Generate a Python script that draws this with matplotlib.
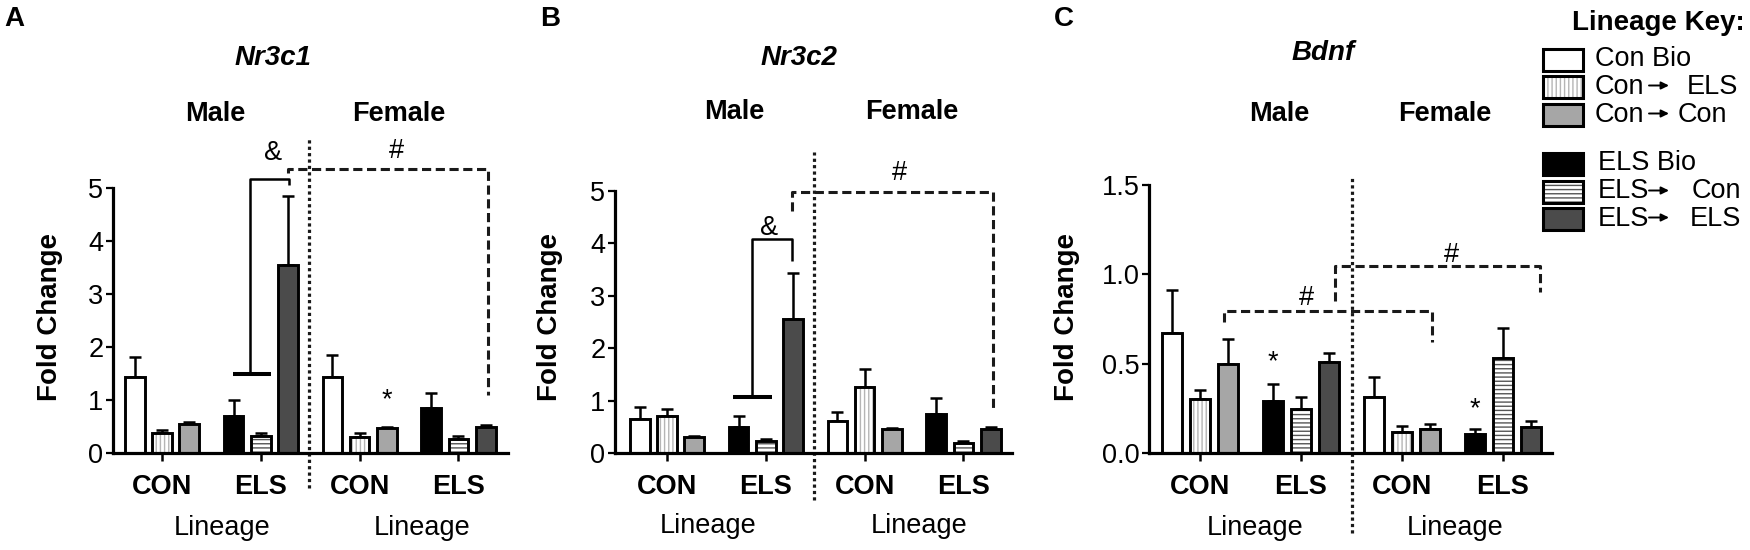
import numpy as np
import matplotlib.pyplot as plt
from matplotlib.patches import Rectangle

plt.rcParams['font.family'] = ['Liberation Sans', 'DejaVu Sans']
plt.rcParams['hatch.linewidth'] = 1.0

W, H = 1750, 550
FS = 19.5

# bar order per sex: CON lineage (Con Bio, Con->ELS, Con->Con), ELS lineage (ELS Bio, ELS->Con, ELS->ELS)
lineage_from = ['Con Bio', 'Con', 'Con', 'ELS Bio', 'ELS', 'ELS']
lineage_to = [None, 'ELS', 'Con', None, 'Con', 'ELS']
group_labels = ['CON', 'ELS', 'CON', 'ELS']
sex_labels = ['Male', 'Female']

# means and mean+SEM, order: male CON x3, male ELS x3, female CON x3, female ELS x3
nr3c1_mean = [1.44, 0.38, 0.55, 0.70, 0.32, 3.54, 1.44, 0.30, 0.48, 0.84, 0.27, 0.50]
nr3c1_top = [1.82, 0.43, 0.58, 1.00, 0.37, 4.84, 1.84, 0.37, 0.50, 1.13, 0.32, 0.52]
nr3c2_mean = [0.64, 0.71, 0.31, 0.50, 0.23, 2.55, 0.61, 1.26, 0.45, 0.75, 0.19, 0.46]
nr3c2_top = [0.87, 0.84, 0.33, 0.71, 0.26, 3.44, 0.79, 1.61, 0.47, 1.05, 0.23, 0.50]
bdnf_mean = [0.67, 0.30, 0.50, 0.29, 0.245, 0.51, 0.315, 0.115, 0.135, 0.105, 0.53, 0.145]
bdnf_top = [0.91, 0.355, 0.64, 0.385, 0.315, 0.56, 0.425, 0.15, 0.16, 0.135, 0.70, 0.178]

# face colour, hatch, hatch colour for each lineage
styles = [
    ('white', None, 'black'),
    ('white', '||||', '#b5b5b5'),
    ('#a6a6a6', None, 'black'),
    ('black', None, 'black'),
    ('white', '----', '#555555'),
    ('#4b4b4b', None, 'black'),
]

group_step = 3.62
centers = np.arange(4) * group_step
bar_x = np.concatenate([c + np.array([-1, 0, 1]) for c in centers])
bar_w = 0.72

fig = plt.figure(figsize=(W / 100, H / 100), dpi=100)


def make_axes(px_left, px_right, px_zero, px_top, top_val, g0_px, unit_px):
    ax = fig.add_axes([px_left / W, 1 - px_zero / H, (px_right - px_left) / W, (px_zero - px_top) / H])
    ax.set_ylim(0, top_val)
    ax.set_xlim((px_left - g0_px) / unit_px, (px_right - g0_px) / unit_px)
    ax.patch.set_visible(False)
    for s in ['top', 'right']:
        ax.spines[s].set_visible(False)
    for s in ['left', 'bottom']:
        ax.spines[s].set_linewidth(2.3)
    ax.tick_params(axis='y', direction='out', length=5, width=1.6, labelsize=FS, pad=2)
    ax.tick_params(axis='x', direction='out', length=6, width=1.8, labelsize=FS, pad=9)
    ax.set_xticks(centers)
    ax.set_xticklabels(group_labels, fontweight='bold')
    return ax


def draw_bars(ax, mean, top):
    mean = np.array(mean)
    top = np.array(top)
    for i in range(len(mean)):
        fc, hatch, hc = styles[i % 6]
        ax.bar(bar_x[i], mean[i], width=bar_w, color=fc, edgecolor=hc, hatch=hatch, linewidth=0, zorder=2)
        ax.bar(bar_x[i], mean[i], width=bar_w, fill=False, edgecolor='black', linewidth=2.1, zorder=3)
    ax.errorbar(bar_x, mean, yerr=[np.zeros_like(mean), top - mean], fmt='none', ecolor='black',
                elinewidth=1.8, capsize=4.5, capthick=1.8, zorder=1)


def line(ax, xs, ys, style='-', lw=1.8):
    if style == '--':
        ax.plot(xs, ys, color='#1a1a1a', lw=2.2, linestyle=(0, (3, 1.5)), clip_on=False, solid_capstyle='butt')
    elif style == ':':
        ax.plot(xs, ys, color='#1a1a1a', lw=2.3, linestyle=(0, (1, 1.0)), clip_on=False)
    else:
        ax.plot(xs, ys, color='black', lw=lw, clip_on=False, solid_capstyle='butt')


def mark(ax, x, y, s):
    ax.text(x, y, s, ha='center', va='center', fontsize=FS, clip_on=False)


# ---- A: Nr3c1
axA = make_axes(113, 508, 453, 188, 5, 162, 27.3)
draw_bars(axA, nr3c1_mean, nr3c1_top)
axA.set_yticks(range(6))
line(axA, [2.6, 4.0], [1.5, 1.5], lw=2.9)
line(axA, [3.22, 3.22, 4.65, 4.65], [1.5, 5.17, 5.17, 5.06])
mark(axA, 4.07, 5.66, '&')
line(axA, [4.62, 4.62, 11.95, 11.95], [5.28, 5.36, 5.36, 1.10], '--')
mark(axA, 8.6, 5.69, '#')
mark(axA, 8.24, 1.0, '*')
line(axA, [5.38, 5.38], [-0.66, 5.97], ':')

# ---- B: Nr3c2
axB = make_axes(615, 1012, 453, 191, 5, 667, 27.3)
draw_bars(axB, nr3c2_mean, nr3c2_top)
axB.set_yticks(range(6))
line(axB, [2.42, 3.84], [1.06, 1.06], lw=2.9)
line(axB, [3.11, 3.11, 4.58, 4.58], [1.06, 4.08, 4.08, 3.67])
mark(axB, 3.74, 4.3, '&')
line(axB, [4.58, 4.58, 11.94, 11.94], [4.61, 4.99, 4.99, 0.83], '--')
mark(axB, 8.5, 5.34, '#')
line(axB, [5.38, 5.38], [-0.9, 5.75], ':')

# ---- C: Bdnf
axC = make_axes(1149, 1552, 453, 185, 1.5, 1200, 27.9)
draw_bars(axC, bdnf_mean, bdnf_top)
axC.set_yticks([0, 0.5, 1.0, 1.5])
axC.set_yticklabels(['0.0', '0.5', '1.0', '1.5'])
line(axC, [0.86, 0.86, 8.3, 8.3], [0.736, 0.797, 0.797, 0.624], '--')
mark(axC, 3.83, 0.866, '#')
line(axC, [4.84, 4.84, 12.19, 12.19], [0.848, 1.049, 1.049, 0.90], '--')
mark(axC, 9.0, 1.109, '#')
mark(axC, 2.62, 0.51, '*')
mark(axC, 9.86, 0.245, '*')
line(axC, [5.45, 5.45], [-0.45, 1.54], ':')

# ---- text layer in pixel coordinates
ov = fig.add_axes([0, 0, 1, 1])
ov.set_xlim(0, W)
ov.set_ylim(H, 0)
ov.axis('off')

panels = [
    ('A', 14, 'Nr3c1', 273, 58, 215, 399, 114, 50, [222, 422], 528),
    ('B', 550, 'Nr3c2', 799, 58, 734, 912, 112, 550, [708, 919], 526),
    ('C', 1064, 'Bdnf', 1323, 53, 1279, 1445, 114, 1067, [1255, 1455], 528),
]
for letter, lx, gene, tx, ty, mx, fx, sy, fcx, linx, liny in panels:
    ov.text(lx, 19, letter, ha='center', va='center', fontsize=20, fontweight='bold')
    ov.text(tx, ty, gene, ha='center', va='center', fontsize=20, fontweight='bold', fontstyle='italic')
    ov.text(mx, sy, sex_labels[0], ha='center', va='center', fontsize=FS, fontweight='bold')
    ov.text(fx, sy, sex_labels[1], ha='center', va='center', fontsize=FS, fontweight='bold')
    ov.text(fcx, 317, 'Fold Change', ha='center', va='center', rotation=90, fontsize=20, fontweight='bold')
    for x in linx:
        ov.text(x, liny, 'Lineage', ha='center', va='center', fontsize=FS)

# legend
ov.text(1745, 23, 'Lineage Key:', ha='right', va='center', fontsize=20, fontweight='bold')
row_y = [59.5, 86.5, 114.5, 163.5, 191.5, 218.5]
to_x = [None, 1687, 1678, None, 1692, 1690]
for i, y in enumerate(row_y):
    fc, hatch, hc = styles[i]
    ov.add_patch(Rectangle((1543, y - 11), 40, 22, facecolor=fc, edgecolor=hc, hatch=hatch, linewidth=0))
    ov.add_patch(Rectangle((1543, y - 11), 40, 22, fill=False, edgecolor='black', linewidth=2.2))
    ov.text(1595 if i < 3 else 1598, y, lineage_from[i], ha='left', va='center', fontsize=FS)
    if lineage_to[i] is not None:
        ov.annotate('', xy=(1669, y - 1), xytext=(1649, y - 1),
                    arrowprops=dict(arrowstyle='-|>,head_length=0.45,head_width=0.22', lw=1.4,
                                    color='black', shrinkA=0, shrinkB=0))
        ov.text(to_x[i], y, lineage_to[i], ha='left', va='center', fontsize=FS)

fig.savefig('out.png', dpi=100)
